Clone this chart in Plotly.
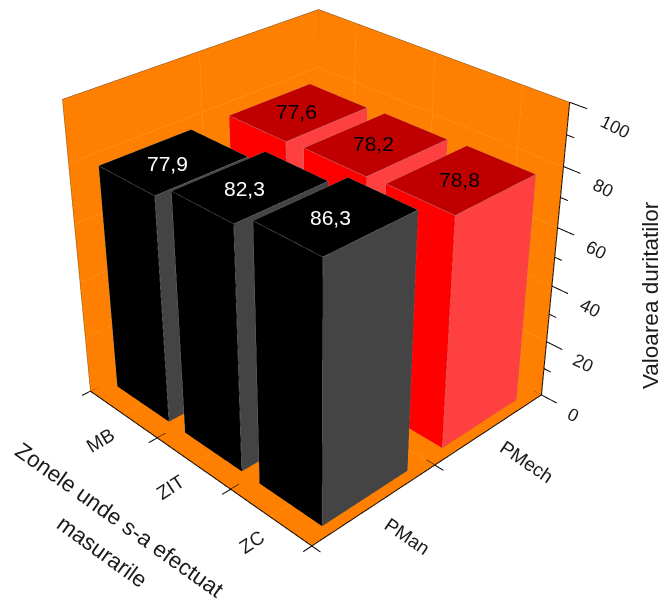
import plotly.graph_objects as go

# Hardness measured in each zone, for both processing types
zones = ["MB", "ZIT", "ZC"]
processes = ["PMan", "PMech"]
pman_values = [77.9, 82.3, 86.3]
pmech_values = [77.6, 78.2, 78.8]
z_major = [0, 20, 40, 60, 80, 100]
z_minor = [10, 30, 50, 70, 90]
x_ticks = [0, 1, 2, 3]
y_ticks = [0, 1, 2]
x_grid = [0.5, 1.5, 2.5]
y_grid = [1]

WALL = "#ff8000"
GRID = "#ffa64d"
FONT = "Liberation Sans, Arial, sans-serif"
TEXT = "#1a1a1a"
HALF_X = 0.385
HALF_Y = 0.347
X_MAX, Y_MAX, Z_MAX = x_ticks[-1], y_ticks[-1], z_major[-1]
LIGHT = dict(ambient=1, diffuse=0, specular=0, fresnel=0)

# The scene's field of view is fixed, so a flatter perspective needs a larger
# canvas; the page then shows only the part of it holding the chart.
CANVAS = 1205
OFFSET_X = -287
OFFSET_Y = -347


def cuboid(x0, x1, y0, y1, h, top, left, right):
    """Mesh for one bar, with a flat colour per visible face."""
    xs = [x0, x1, x1, x0, x0, x1, x1, x0]
    ys = [y0, y0, y1, y1, y0, y0, y1, y1]
    zs = [0, 0, 0, 0, h, h, h, h]
    i = [4, 4, 0, 0, 1, 1, 2, 2, 3, 3, 0, 0]
    j = [5, 6, 1, 5, 2, 6, 3, 7, 0, 4, 1, 2]
    k = [6, 7, 5, 4, 6, 5, 7, 6, 4, 7, 2, 3]
    colors = [top, top, left, left, right, right, left, left, right, right, top, top]
    return go.Mesh3d(x=xs, y=ys, z=zs, i=i, j=j, k=k, facecolor=colors,
                     flatshading=True, lighting=LIGHT, hoverinfo="skip", showscale=False)


def lines(segments, color, width):
    """One line trace from a list of (start, end) points."""
    xs, ys, zs = [], [], []
    for a, b in segments:
        xs += [a[0], b[0], None]
        ys += [a[1], b[1], None]
        zs += [a[2], b[2], None]
    return go.Scatter3d(x=xs, y=ys, z=zs, mode="lines",
                        line=dict(color=color, width=width),
                        hoverinfo="skip", showlegend=False)


def outline(x0, x1, y0, y1, h, color):
    """Edges of a bar's top face and of its visible vertical corners."""
    ring = [(x0, y0), (x1, y0), (x1, y1), (x0, y1), (x0, y0)]
    segs = [((a[0], a[1], h), (b[0], b[1], h)) for a, b in zip(ring, ring[1:])]
    segs += [((x1, y0, h), (x1, y0, 0)), ((x1, y1, h), (x1, y1, 0)),
             ((x0, y0, h), (x0, y0, 0)), ((x0, y0, 0), (x1, y0, 0)), ((x1, y0, 0), (x1, y1, 0))]
    return lines(segs, color, 1)


fig = go.Figure()

# Floor and the two rear walls
fig.add_trace(go.Mesh3d(
    x=[0, X_MAX, X_MAX, 0, 0, X_MAX, X_MAX, 0],
    y=[0, 0, Y_MAX, Y_MAX, 0, 0, Y_MAX, Y_MAX],
    z=[0, 0, 0, 0, Z_MAX, Z_MAX, Z_MAX, Z_MAX],
    i=[0, 0, 0, 0, 3, 3], j=[1, 2, 3, 7, 2, 6], k=[2, 3, 7, 4, 6, 7],
    color=WALL, flatshading=True, lighting=LIGHT, hoverinfo="skip"))

# Gridlines on the floor and walls
grid = []
for xv in x_grid:
    grid += [((xv, 0, 0), (xv, Y_MAX, 0)), ((xv, Y_MAX, 0), (xv, Y_MAX, Z_MAX))]
for yv in y_grid:
    grid += [((0, yv, 0), (X_MAX, yv, 0)), ((0, yv, 0), (0, yv, Z_MAX))]
for zv in z_major[1:-1]:
    grid += [((0, 0, zv), (0, Y_MAX, zv)), ((0, Y_MAX, zv), (X_MAX, Y_MAX, zv))]
fig.add_trace(lines(grid, GRID, 1))

# Wall rims
rim = [((0, 0, 0), (0, 0, Z_MAX)), ((0, 0, Z_MAX), (0, Y_MAX, Z_MAX)),
       ((0, Y_MAX, Z_MAX), (X_MAX, Y_MAX, Z_MAX)), ((0, Y_MAX, Z_MAX), (0, Y_MAX, 0))]
fig.add_trace(lines(rim, "#6b4a20", 1))

# Bars, rear row first
series = [
    (1.5, pmech_values, "#c00000", "#ff0000", "#ff4040", "#b09090", "black", -2, 0),
    (0.5, pman_values, "#000000", "#000000", "#444444", "#888888", "white", -6, -2),
]
scene_notes = []
for yc, values, top, left, right, edge, text_color, nudge_x, nudge_y in series:
    for n, value in enumerate(values):
        xc = n + 0.5
        box = (xc - HALF_X, xc + HALF_X, yc - HALF_Y, yc + HALF_Y)
        fig.add_trace(cuboid(*box, value, top, left, right))
        fig.add_trace(outline(*box, value, edge))
        scene_notes.append(dict(
            x=xc, y=yc, z=value, text=f"{value:.1f}".replace(".", ","),
            xshift=nudge_x, yshift=nudge_y,
            showarrow=False, font=dict(family=FONT, size=21, color=text_color),
        ))

# Axis lines and their ticks
axes = [((0, 0, 0), (X_MAX, 0, 0)), ((X_MAX, 0, 0), (X_MAX, Y_MAX, 0)),
        ((X_MAX, Y_MAX, 0), (X_MAX, Y_MAX, Z_MAX))]
axes += [((xv, -0.065, 0), (xv, 0.065, 0)) for xv in x_ticks]
axes += [((X_MAX - 0.1, yv, 0), (X_MAX + 0.1, yv, 0)) for yv in y_ticks]
axes += [((X_MAX, Y_MAX, zv), (X_MAX + 0.18, Y_MAX, zv)) for zv in z_major]
axes += [((X_MAX, Y_MAX, zv), (X_MAX + 0.08, Y_MAX, zv)) for zv in z_minor]
fig.add_trace(lines(axes, "black", 2))

PAD = 0.3
Z_PAD = 2


def hidden(lo, hi):
    return dict(visible=False, range=[lo, hi], showspikes=False)


scene = dict(
    xaxis=hidden(-PAD, X_MAX + PAD),
    yaxis=hidden(-PAD, Y_MAX + PAD),
    zaxis=hidden(-Z_PAD, Z_MAX + Z_PAD),
    aspectmode="manual",
    aspectratio=dict(x=(X_MAX + 2 * PAD) / X_MAX,
                     y=(Y_MAX + 2 * PAD) / Y_MAX,
                     z=(Z_MAX + 2 * Z_PAD) / Z_MAX),
    camera=dict(
        eye=dict(x=2.664, y=-2.590, z=2.18),
        center=dict(x=0, y=0, z=0),
        up=dict(x=0, y=0, z=1),
        projection=dict(type="perspective"),
    ),
    annotations=scene_notes,
    domain=dict(x=[0, 1], y=[0, 1]),
)


def label(text, x, y, angle, size=19):
    return dict(text=text, x=(x - OFFSET_X) / CANVAS, y=1 - (y - OFFSET_Y) / CANVAS,
                xref="paper", yref="paper", xanchor="center", yanchor="middle",
                showarrow=False, textangle=angle,
                font=dict(family=FONT, size=size, color=TEXT))


notes = [
    label(zones[0], 100, 440, -31),
    label(zones[1], 170, 487, -33),
    label(zones[2], 251, 542, -33),
    label(processes[1], 526, 462, 34),
    label(processes[0], 407, 537, 34),
    label("Valoarea duritatilor", 650, 295, -90, 22.5),
    label("Zonele unde s-a efectuat", 120, 520, 35.5, 22.5),
    label("masurarile", 102, 551, 36, 22.5),
]
for value, px, py in zip(z_major, [573, 583, 590, 596, 603, 615], [415, 363, 308, 250, 188, 127]):
    notes.append(label(str(value), px, py, 26, 18))

fig.update_layout(
    width=CANVAS, height=CANVAS, margin=dict(l=0, r=0, t=0, b=0),
    paper_bgcolor="white", showlegend=False, scene=scene, annotations=notes,
)

# Position the oversized canvas inside the page
place = (
    "var gd = document.getElementById('{plot_id}');"
    f"gd.style.position = 'absolute'; gd.style.left = '{OFFSET_X}px'; gd.style.top = '{OFFSET_Y}px';"
    "document.documentElement.style.overflow = 'hidden';"
    "document.body.style.overflow = 'hidden';"
)
fig.write_html("out.html", post_script=place)
